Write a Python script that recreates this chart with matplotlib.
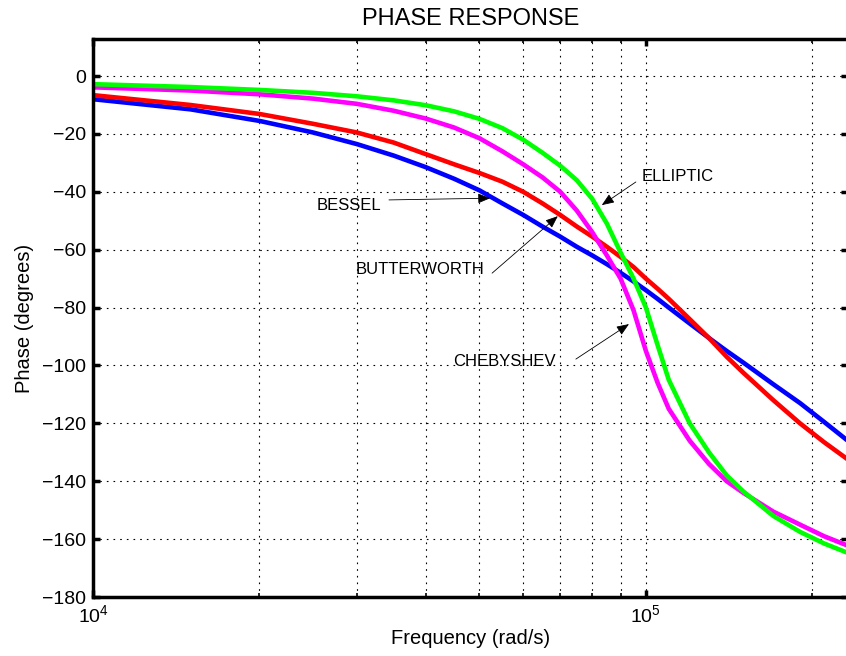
import numpy as np
import matplotlib
matplotlib.use("Agg")
import matplotlib.pyplot as plt

plt.rcParams['font.family'] = ['Liberation Sans', 'DejaVu Sans']
plt.rcParams['mathtext.fontset'] = 'custom'
plt.rcParams['mathtext.rm'] = 'Liberation Sans'
plt.rcParams['mathtext.it'] = 'Liberation Sans'

# frequency grid (rad/s) and phase of each filter (degrees)
freq = [1e4, 1.5e4, 2e4, 2.5e4, 3e4, 3.5e4, 4e4, 4.5e4, 5e4, 5.5e4,
        6e4, 6.5e4, 7e4, 7.5e4, 8e4, 8.5e4, 9e4, 9.5e4, 1e5, 1.05e5,
        1.1e5, 1.2e5, 1.3e5, 1.4e5, 1.5e5, 1.7e5, 1.9e5, 2.1e5, 2.3e5]

bessel = [-8, -11.5, -15.5, -19.5, -23.5, -27.5, -31.5, -35.5, -39.5, -44,
          -48, -52, -55.5, -59, -62, -65, -68, -71, -74, -77,
          -80, -85.5, -90.5, -95, -99, -106.5, -113, -119.5, -125.5]

butterworth = [-6.6, -10, -13.1, -16.5, -19.5, -23, -27, -30.5, -33.5, -36.5,
               -40, -44, -48, -52, -55.5, -59, -62.5, -66, -70, -73.5,
               -77, -84, -90.5, -97, -102.5, -112, -120, -126.5, -132]

chebyshev = [-3.9, -5, -6.3, -7.8, -9.6, -12, -14.7, -17.8, -21.5, -26,
             -30.5, -35, -40, -46.5, -54, -62, -70, -81, -95, -106,
             -115, -126, -134, -140, -144, -150.5, -155, -159, -162]

elliptic = [-2.8, -3.8, -4.8, -5.8, -7, -8.4, -10.1, -12.2, -14.8, -18,
            -22, -26.5, -31, -36, -42.5, -51, -61, -70, -80, -93,
            -105, -120, -130, -138, -143.5, -152, -157.5, -161.5, -164.5]

# annotation text anchors and arrow (start, tip) in data coordinates
labels = ["BESSEL", "BUTTERWORTH", "CHEBYSHEV", "ELLIPTIC"]
text_pos = [(2.54e4, -44.6), (2.99e4, -67.0), (4.48e4, -98.5), (9.83e4, -34.6)]
arrow_from = [(3.43e4, -42.8), (5.27e4, -68.1), (7.47e4, -97.8), (9.59e4, -36.6)]
arrow_to = [(5.23e4, -42.2), (6.93e4, -48.4), (9.32e4, -85.7), (8.32e4, -44.6)]

fig = plt.figure(figsize=(8.46, 6.56), dpi=100)
ax = fig.add_axes([93 / 846, 59 / 656, 755 / 846, 558 / 656])

ax.semilogx(freq, bessel, color=(0, 0, 1), lw=3.3)
ax.semilogx(freq, butterworth, color=(1, 0, 0), lw=3.3)
ax.semilogx(freq, chebyshev, color=(1, 0, 1), lw=3.3)
ax.semilogx(freq, elliptic, color=(0, 1, 0), lw=3.3)

ax.set_xlim(1e4, 2.32e5)
ax.set_ylim(-180, 12.8)
ax.set_yticks(range(-180, 1, 20))
ax.set_xticks([1e4, 1e5])
ax.set_xticklabels([r'$10^4$', r'$10^5$'])
ax.set_xticks([k * 1e4 for k in range(2, 10)] + [2e5], minor=True)
ax.xaxis.set_minor_formatter(plt.NullFormatter())

ax.grid(True, which='both', color='k', lw=0.8, linestyle=(0, (1.5, 4.5)))

ax.tick_params(which='major', direction='in', length=5, width=2.5,
               top=True, right=True, labelsize=14, pad=5)
ax.tick_params(which='minor', direction='in', length=3, width=1.2,
               top=True, right=True)
for s in ax.spines.values():
    s.set_linewidth(2.5)

ax.set_title("PHASE RESPONSE", fontsize=17, pad=10)
ax.set_xlabel("Frequency (rad/s)", fontsize=14.5)
ax.xaxis.set_label_coords(0.5, -0.057)
ax.set_ylabel("Phase (degrees)", fontsize=14.5)
ax.yaxis.set_label_coords(-0.078, 0.5)

for lab, tp, a0, a1 in zip(labels, text_pos, arrow_from, arrow_to):
    ax.text(tp[0], tp[1], lab, fontsize=12, ha='left', va='center')
    ax.annotate('', xy=a1, xytext=a0,
                arrowprops=dict(arrowstyle='-|>,head_length=0.5,head_width=0.2',
                                mutation_scale=15, lw=0.6, color='k',
                                shrinkA=0, shrinkB=0))

fig.savefig('out.png', dpi=100)
